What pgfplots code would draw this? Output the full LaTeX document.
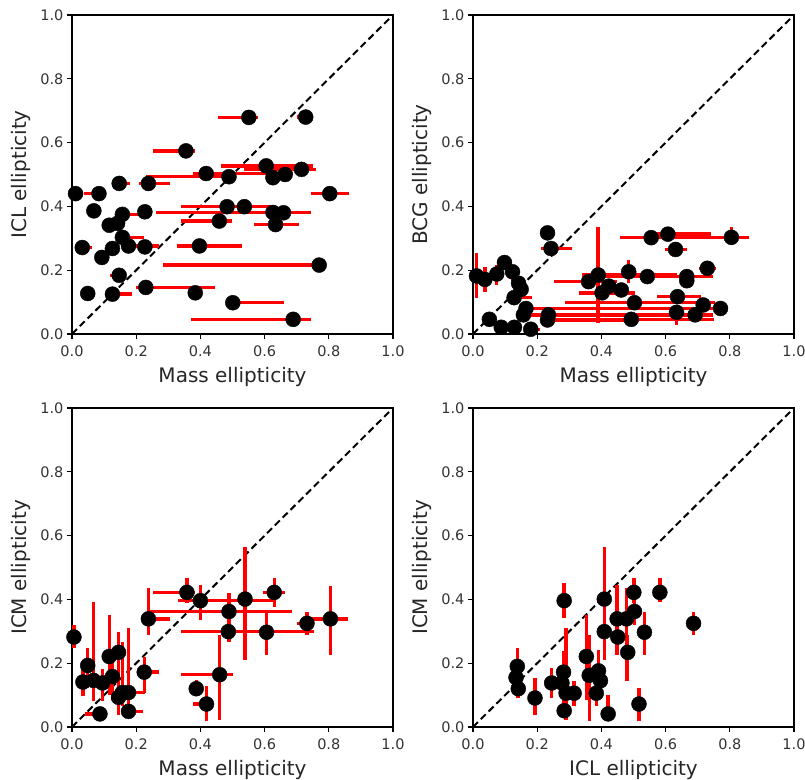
\documentclass[border=0pt]{standalone}
\usepackage{fontspec}
\setmainfont{DejaVu Sans}
\usepackage{pgfplots}
\usepackage{pgfplotstable}
\pgfplotsset{compat=1.18}

% x y exm exp eym eyp
\pgfplotstableread{
x y exm exp eym eyp
0.551 0.679 0.095 0.028 0 0
0.728 0.680 0.028 0.022 0 0
0.355 0.574 0.102 0.028 0 0
0.605 0.527 0.140 0.146 0 0
0.715 0.516 0.178 0.046 0 0
0.418 0.503 0.042 0.271 0 0
0.489 0.493 0.257 0.000 0 0
0.626 0.490 0.020 0.020 0 0
0.664 0.500 0.028 0.019 0 0
0.011 0.440 0.010 0.010 0 0
0.084 0.440 0.047 0.000 0 0
0.147 0.472 0.000 0.033 0 0
0.238 0.472 0.030 0.066 0 0
0.803 0.440 0.058 0.059 0 0
0.068 0.386 0.000 0.000 0 0
0.157 0.375 0.000 0.062 0 0
0.227 0.383 0.000 0.000 0 0
0.626 0.381 0.364 0.118 0 0
0.659 0.380 0.040 0.055 0 0
0.483 0.399 0.143 0.148 0 0
0.537 0.399 0.020 0.020 0 0
0.459 0.354 0.119 0.040 0 0
0.634 0.343 0.067 0.073 0 0
0.116 0.341 0.000 0.000 0 0
0.142 0.347 0.000 0.000 0 0
0.157 0.303 0.000 0.066 0 0
0.176 0.276 0.019 0.094 0 0
0.032 0.271 0.000 0.031 0 0
0.126 0.268 0.000 0.000 0 0
0.227 0.273 0.000 0.000 0 0
0.397 0.276 0.070 0.132 0 0
0.093 0.240 0.000 0.000 0 0
0.770 0.216 0.486 0.000 0 0
0.147 0.184 0.030 0.000 0 0
0.049 0.127 0.000 0.000 0 0
0.126 0.125 0.000 0.060 0 0
0.230 0.146 0.030 0.217 0 0
0.384 0.129 0.010 0.010 0 0
0.501 0.098 0.000 0.158 0 0
0.689 0.046 0.318 0.054 0 0
}\iclmass

\pgfplotstableread{
x y exm exp eym eyp
0.232 0.317 0 0 0 0
0.243 0.268 0.031 0.064 0 0
0.555 0.302 0.096 0.196 0 0
0.607 0.313 0.059 0.135 0 0
0.805 0.303 0.063 0.056 0.024 0.033
0.631 0.265 0.034 0.037 0 0
0.011 0.182 0 0 0.070 0.073
0.037 0.171 0 0 0.038 0.040
0.074 0.188 0 0 0.035 0.028
0.098 0.224 0 0 0.020 0.020
0.123 0.195 0 0 0.030 0.015
0.142 0.159 0 0 0.020 0.020
0.150 0.140 0.010 0.020 0 0
0.128 0.114 0 0.055 0 0
0.051 0.046 0 0 0 0
0.088 0.021 0 0 0 0
0.129 0.021 0 0 0.010 0.010
0.165 0.080 0.020 0.300 0 0
0.157 0.060 0.020 0.030 0 0
0.180 0.015 0 0.030 0 0
0.235 0.060 0.050 0.450 0 0
0.232 0.044 0.020 0.250 0 0
0.360 0.164 0.107 0.089 0 0
0.390 0.185 0.050 0.247 0.149 0.151
0.402 0.129 0.073 0.104 0 0
0.423 0.150 0.020 0.020 0 0
0.462 0.138 0.020 0.020 0 0
0.485 0.195 0 0 0.036 0.037
0.503 0.098 0.215 0.250 0 0
0.543 0.180 0.146 0.204 0 0
0.493 0.046 0.190 0.258 0 0
0.637 0.117 0.064 0.072 0 0
0.634 0.068 0 0 0.040 0.022
0.666 0.180 0.050 0.080 0 0
0.666 0.167 0.020 0.020 0 0
0.730 0.206 0.026 0.026 0 0
0.717 0.091 0.020 0.020 0 0
0.692 0.060 0.056 0.055 0 0
0.771 0.080 0.320 0.000 0 0
}\bcgmass

\pgfplotstableread{
x y exm exp eym eyp
0.006 0.282 0.010 0.010 0.035 0.038
0.034 0.141 0.020 0.020 0.045 0.044
0.049 0.193 0.000 0.000 0.071 0.054
0.067 0.146 0.000 0.000 0.066 0.247
0.087 0.041 0.045 0.000 0.010 0.010
0.095 0.138 0.000 0.000 0.058 0.044
0.116 0.221 0.000 0.000 0.120 0.130
0.126 0.158 0.026 0.024 0.072 0.047
0.145 0.234 0.000 0.000 0.195 0.065
0.145 0.093 0.000 0.000 0.000 0.000
0.157 0.108 0.000 0.000 0.043 0.160
0.176 0.108 0.000 0.050 0.069 0.202
0.176 0.049 0.013 0.044 0.021 0.021
0.225 0.172 0.015 0.045 0.066 0.049
0.238 0.339 0.000 0.066 0.050 0.098
0.358 0.422 0.106 0.024 0.034 0.044
0.400 0.396 0.070 0.233 0.060 0.049
0.489 0.362 0.248 0.196 0.094 0.057
0.539 0.401 0.000 0.000 0.190 0.164
0.487 0.299 0.147 0.266 0.000 0.000
0.606 0.297 0.000 0.000 0.071 0.060
0.630 0.422 0.034 0.034 0.045 0.044
0.732 0.325 0.032 0.021 0.036 0.037
0.805 0.339 0.065 0.054 0.113 0.104
0.460 0.164 0.120 0.040 0.141 0.125
0.387 0.120 0.000 0.000 0.019 0.028
0.419 0.072 0.042 0.000 0.054 0.055
}\icmmass

\pgfplotstableread{
x y exm exp eym eyp
0.138 0.190 0 0 0.099 0.057
0.134 0.155 0 0 0.000 0.000
0.141 0.120 0 0 0.030 0.000
0.193 0.091 0 0 0.052 0.062
0.245 0.138 0 0 0.047 0.047
0.284 0.396 0 0 0.055 0.054
0.282 0.172 0 0 0.144 0.065
0.277 0.138 0 0 0.000 0.000
0.290 0.106 0 0 0.083 0.204
0.315 0.106 0 0 0.041 0.037
0.284 0.051 0 0 0.000 0.000
0.353 0.221 0 0 0.135 0.130
0.362 0.162 0 0 0.144 0.127
0.391 0.176 0 0 0.085 0.066
0.397 0.145 0 0 0.000 0.000
0.384 0.106 0 0 0.041 0.026
0.409 0.401 0 0 0.190 0.164
0.409 0.299 0 0 0.088 0.094
0.449 0.339 0 0 0.113 0.106
0.451 0.282 0 0 0.000 0.000
0.421 0.041 0 0 0.018 0.060
0.478 0.339 0 0 0.196 0.098
0.482 0.234 0 0 0.091 0.055
0.501 0.422 0 0 0.034 0.044
0.503 0.362 0 0 0.042 0.057
0.534 0.297 0 0 0.071 0.065
0.517 0.072 0 0 0.054 0.050
0.582 0.422 0 0 0.029 0.044
0.687 0.325 0 0 0.036 0.037
}\icmicl

\pgfplotsset{
  panel/.style={
    scale only axis, width=321pt, height=319pt,
    xmin=0, xmax=1, ymin=0, ymax=1,
    xtick={0,0.2,...,1}, ytick={0,0.2,...,1},
    tick pos=left, tick align=outside, major tick length=5pt,
    every tick/.style={black, line width=1.2pt},
    axis line style={line width=1.6pt},
    /pgf/number format/.cd, fixed, fixed zerofill, precision=1, assume math mode=true, /pgfplots/.cd,
    ticklabel style={font=\fontsize{14.5}{16}\selectfont, text=black!80},
    xticklabel style={yshift=-3pt},
    label style={font=\fontsize{20}{24}\selectfont, text=black!85},
    x label style={at={(axis description cs:0.5,-0.134)}, anchor=center},
    y label style={at={(axis description cs:-0.159,0.5)}, anchor=center},
  },
  pts/.style={only marks, mark=*, mark size=7.5pt, mark options={fill=black, draw=black},
    error bars/.cd, x dir=both, x explicit, y dir=both, y explicit,
    error mark=none, error bar style={red, line width=3.4pt}},
  diag/.style={black, line width=2pt, dash pattern=on 7pt off 4pt},
}

\begin{document}
\begin{tikzpicture}[x=1pt,y=1pt]
\path[use as bounding box] (0,0) rectangle (805,779);

\begin{axis}[panel, at={(72pt,445pt)}, anchor=south west,
  xlabel={Mass ellipticity}, ylabel={ICL ellipticity}]
\addplot[diag] coordinates {(0,0) (1,1)};
\addplot[pts] table[x=x, y=y, x error minus=exm, x error plus=exp, y error minus=eym, y error plus=eyp] {\iclmass};
\end{axis}

\begin{axis}[panel, at={(473pt,445pt)}, anchor=south west,
  xlabel={Mass ellipticity}, ylabel={BCG ellipticity}]
\addplot[diag] coordinates {(0,0) (1,1)};
\addplot[pts] table[x=x, y=y, x error minus=exm, x error plus=exp, y error minus=eym, y error plus=eyp] {\bcgmass};
\end{axis}

\begin{axis}[panel, at={(72pt,52pt)}, anchor=south west,
  xlabel={Mass ellipticity}, ylabel={ICM ellipticity}]
\addplot[diag] coordinates {(0,0) (1,1)};
\addplot[pts] table[x=x, y=y, x error minus=exm, x error plus=exp, y error minus=eym, y error plus=eyp] {\icmmass};
\end{axis}

\begin{axis}[panel, at={(473pt,52pt)}, anchor=south west,
  xlabel={ICL ellipticity}, ylabel={ICM ellipticity}]
\addplot[diag] coordinates {(0,0) (1,1)};
\addplot[pts] table[x=x, y=y, x error minus=exm, x error plus=exp, y error minus=eym, y error plus=eyp] {\icmicl};
\end{axis}
\end{tikzpicture}
\end{document}
